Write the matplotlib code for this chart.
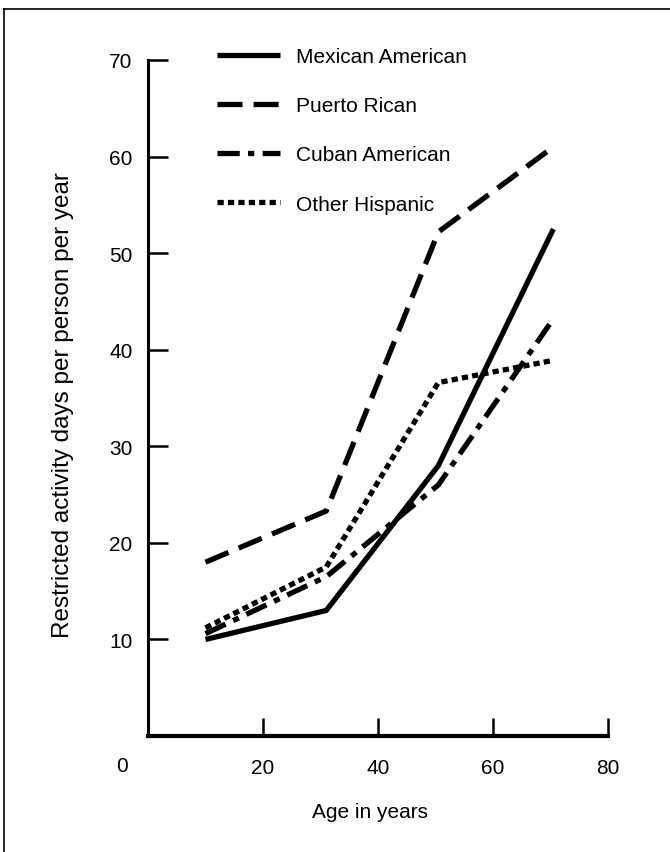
import matplotlib
matplotlib.use("Agg")
import matplotlib.pyplot as plt
from matplotlib.lines import Line2D

plt.rcParams["font.family"] = ["Liberation Sans", "DejaVu Sans"]
plt.rcParams["lines.scale_dashes"] = False

# age group midpoints (years) and restricted activity days per person per year
AGES = [10, 31, 50.5, 70.5]
MEXICAN_AMERICAN = [10.0, 13.0, 28.0, 52.5]
PUERTO_RICAN     = [18.0, 23.3, 52.2, 61.0]
CUBAN_AMERICAN   = [10.6, 16.5, 26.0, 43.2]
OTHER_HISPANIC   = [11.2, 17.5, 36.6, 38.9]

LABELS = ["Mexican American", "Puerto Rican", "Cuban American", "Other Hispanic"]
X_TICKS = [20, 40, 60, 80]
Y_TICKS = [10, 20, 30, 40, 50, 60, 70]

STYLES = [
    "-",
    (0, (18, 8)),
    (0, (16, 6, 4.5, 6)),
    (0, (4.5, 3)),
]

W, H = 670, 853
fig = plt.figure(figsize=(W / 100, H / 100), dpi=100)
ax = fig.add_axes([148 / W, 1 - 737 / H, 460 / W, 676 / H])

for vals, lab, ls in zip([MEXICAN_AMERICAN, PUERTO_RICAN, CUBAN_AMERICAN, OTHER_HISPANIC],
                         LABELS, STYLES):
    ax.plot(AGES, vals, color="black", linewidth=3.8, linestyle=ls,
            solid_capstyle="butt", dash_capstyle="butt", label=lab)

ax.set_xlim(0, 80)
ax.set_ylim(0, 70)
ax.set_xticks(X_TICKS)
ax.set_yticks(Y_TICKS)
ax.spines["top"].set_visible(False)
ax.spines["right"].set_visible(False)
ax.spines["left"].set_linewidth(2.2)
ax.spines["bottom"].set_linewidth(3.0)
ax.tick_params(axis="y", direction="in", length=14.4, width=1.8, pad=11, labelsize=15)
ax.tick_params(axis="x", direction="in", length=13, width=1.8, pad=16, labelsize=15)

# shared origin label sits left of the corner
ax.annotate("0", xy=(0, 0), xytext=(-26, -30), textcoords="offset pixels",
            ha="center", va="center", fontsize=15, annotation_clip=False)

ax.set_xlabel("Age in years", fontsize=15)
ax.xaxis.set_label_coords(0.483, -(813 - 737) / 676)
ax.xaxis.label.set_verticalalignment("center")
ax.set_ylabel("Restricted activity days per person per year", fontsize=17.5)
ax.yaxis.set_label_coords((63 - 148) / 460, (737 - 405) / 676)
ax.yaxis.label.set_verticalalignment("center")

ax.legend(loc="upper left", bbox_to_anchor=(217 / W, 1 - 48 / H),
          bbox_transform=fig.transFigure, frameon=False, fontsize=15,
          handlelength=3.0, handletextpad=0.8, labelspacing=1.45,
          borderpad=0, borderaxespad=0)

# page frame (left and top edges)
fig.add_artist(Line2D([4 / W, 4 / W], [0, 1 - 10 / H], transform=fig.transFigure,
                      color="black", linewidth=1.2))
fig.add_artist(Line2D([4 / W, 1], [1 - 10 / H, 1 - 10 / H], transform=fig.transFigure,
                      color="black", linewidth=1.2))

fig.savefig("out.png", dpi=100)
